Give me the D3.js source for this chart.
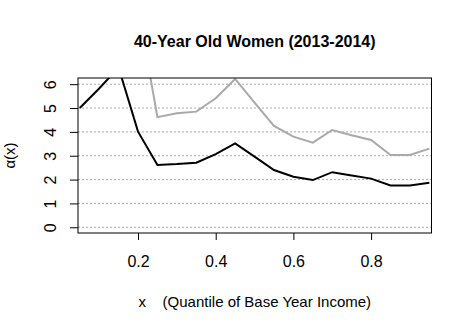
<!DOCTYPE html>
<html>
<head>
<meta charset="utf-8">
<script src="https://cdn.jsdelivr.net/npm/d3@7.9.0/dist/d3.min.js"></script>
<style>
  body { margin: 0; background: #fff; }
  svg { font-family: "Liberation Sans", Arial, sans-serif; }
</style>
</head>
<body>
<svg id="chart" width="472" height="331"></svg>
<script>
const xs = [0.05, 0.10, 0.15, 0.20, 0.25, 0.30, 0.35, 0.40, 0.45, 0.50,
            0.55, 0.60, 0.65, 0.70, 0.75, 0.80, 0.85, 0.90, 0.95];
const estimate = [5.0, 5.82, 6.7, 4.01, 2.61, 2.65, 2.71, 3.07, 3.52, 2.96,
                  2.40, 2.12, 1.98, 2.31, 2.17, 2.04, 1.75, 1.75, 1.87];
const upper = [9.6, 11.0, 12.0, 9.2, 4.62, 4.78, 4.85, 5.41, 6.22, 5.23,
               4.25, 3.80, 3.55, 4.08, 3.86, 3.66, 3.03, 3.03, 3.30];
const xTicks = [0.2, 0.4, 0.6, 0.8];
const yTicks = [0, 1, 2, 3, 4, 5, 6];

const svg = d3.select('#chart');
const mLeft = 78, mRight = 431.5, mTop = 78, mBottom = 233;

const x = d3.scaleLinear().domain([0.0455, 0.9555]).range([mLeft, mRight]);
const y = d3.scaleLinear().domain([-0.24, 6.26]).range([mBottom, mTop]);

svg.append('defs').append('clipPath').attr('id', 'clip')
  .append('rect')
  .attr('x', mLeft).attr('y', mTop)
  .attr('width', mRight - mLeft).attr('height', mBottom - mTop);

// grid
svg.append('g')
  .selectAll('line')
  .data(yTicks)
  .join('line')
  .attr('x1', mLeft).attr('x2', mRight)
  .attr('y1', (d) => y(d)).attr('y2', (d) => y(d))
  .attr('stroke', '#aaaaaa')
  .attr('stroke-dasharray', '2,2');

let line = d3.line()
  .x((d, i) => x(xs[i]))
  .y((d) => y(d));

let lines = svg.append('g').attr('clip-path', 'url(#clip)');
lines.append('path')
  .attr('d', line(upper))
  .attr('fill', 'none')
  .attr('stroke', '#a9a9a9')
  .attr('stroke-width', 2);
lines.append('path')
  .attr('d', line(estimate))
  .attr('fill', 'none')
  .attr('stroke', '#000')
  .attr('stroke-width', 2);

// axes
let xAxis = svg.append('g')
  .attr('transform', `translate(0,${mBottom})`)
  .call(d3.axisBottom(x).tickValues(xTicks).tickSize(7).tickPadding(16)
    .tickFormat(d3.format('.1f')));
xAxis.select('.domain').remove();
xAxis.selectAll('text').attr('font-size', 16).attr('font-family', null);

let yAxis = svg.append('g')
  .attr('transform', `translate(${mLeft},0)`)
  .call(d3.axisLeft(y).tickValues(yTicks).tickSize(8).tickPadding(0)
    .tickFormat(d3.format('d')));
yAxis.select('.domain').remove();
yAxis.selectAll('text')
  .attr('font-size', 16).attr('font-family', null)
  .attr('text-anchor', 'middle')
  .attr('dy', null)
  .attr('x', null)
  .attr('transform', 'translate(-28,0) rotate(-90)')
  .attr('dominant-baseline', 'central');

// box
svg.append('rect')
  .attr('x', mLeft).attr('y', mTop)
  .attr('width', mRight - mLeft).attr('height', mBottom - mTop)
  .attr('fill', 'none').attr('stroke', '#000');

svg.append('text')
  .attr('x', (mLeft + mRight) / 2).attr('y', 47)
  .attr('text-anchor', 'middle')
  .attr('font-size', 16).attr('font-weight', 'bold')
  .text('40-Year Old Women (2013-2014)');

svg.append('text')
  .attr('x', (mLeft + mRight) / 2).attr('y', 307)
  .attr('text-anchor', 'middle')
  .attr('font-size', 15)
  .style('white-space', 'pre')
  .text('x    (Quantile of Base Year Income)');

svg.append('text')
  .attr('transform', `translate(15,${(mTop + mBottom) / 2}) rotate(-90)`)
  .attr('text-anchor', 'middle')
  .attr('font-size', 15)
  .text('α(x)');
</script>
</body>
</html>
